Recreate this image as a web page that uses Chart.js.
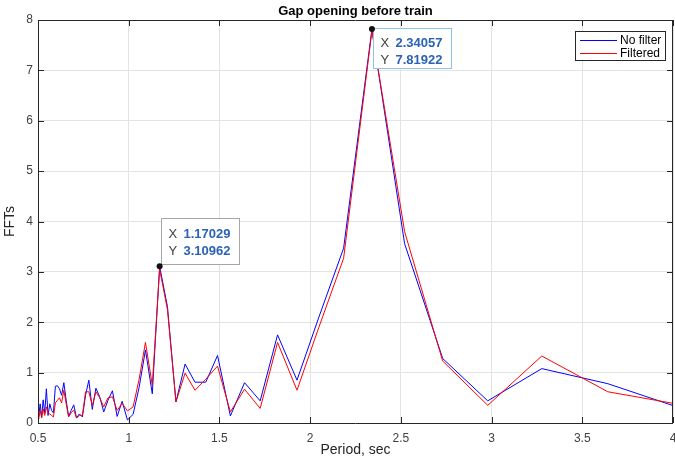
<!DOCTYPE html>
<html>
<head>
<meta charset="utf-8">
<script src="https://cdn.jsdelivr.net/npm/chart.js@4/dist/chart.umd.min.js"></script>
<style>
html, body { margin: 0; padding: 0; background: #fff; }
canvas { display: block; }
</style>
</head>
<body>
<canvas id="fft-chart" width="675" height="459"></canvas>
<script>
// periods (sec), ascending
const periods = [0.4965, 0.5041, 0.5120, 0.5201, 0.5285, 0.5372, 0.5461, 0.5554, 0.5650, 0.5749,
    0.5851, 0.5958, 0.6068, 0.6183, 0.6302, 0.6425, 0.6554, 0.6687, 0.6827, 0.6972,
    0.7123, 0.7282, 0.7447, 0.7621, 0.7802, 0.7992, 0.8192, 0.8402, 0.8623, 0.8856,
    0.9102, 0.9362, 0.9638, 0.9930, 1.0240, 1.0570, 1.0923, 1.1299, 1.17029, 1.2136,
    1.2603, 1.3107, 1.3653, 1.4247, 1.4895, 1.5604, 1.6384, 1.7246, 1.8204, 1.9275,
    2.0480, 2.1845, 2.34057, 2.5206, 2.7307, 2.9789, 3.2768, 3.6409, 4.0960];

const noFilter = [0.30, 0.15, 0.38, 0.12, 0.46, 0.20, 0.68, 0.15, 0.38, 0.25,
    0.20, 0.73, 0.74, 0.68, 0.55, 0.80, 0.45, 0.13, 0.25, 0.36,
    0.10, 0.18, 0.12, 0.55, 0.85, 0.27, 0.69, 0.52, 0.22, 0.45,
    0.64, 0.13, 0.43, 0.06, 0.17, 0.70, 1.45, 0.58, 3.10962, 2.31,
    0.42, 1.17, 0.81, 0.81, 1.34, 0.14, 0.80, 0.44, 1.75, 0.85,
    2.10, 3.47, 7.81922, 3.56, 1.28, 0.44, 1.08, 0.78, 0.23];

const filtered = [0.18, 0.08, 0.25, 0.10, 0.28, 0.15, 0.32, 0.20, 0.18, 0.15,
    0.12, 0.40, 0.45, 0.50, 0.40, 0.65, 0.38, 0.12, 0.20, 0.26,
    0.10, 0.15, 0.15, 0.62, 0.62, 0.35, 0.62, 0.50, 0.32, 0.50,
    0.52, 0.25, 0.39, 0.24, 0.32, 0.86, 1.60, 0.75, 3.05, 2.25,
    0.42, 0.99, 0.65, 0.87, 1.13, 0.22, 0.67, 0.29, 1.60, 0.65,
    1.90, 3.27, 7.78, 3.80, 1.23, 0.35, 1.33, 0.62, 0.33];

const seriesNames = ["No filter", "Filtered"];
const xTicks = [0.5, 1, 1.5, 2, 2.5, 3, 3.5, 4];
const yTicks = [0, 1, 2, 3, 4, 5, 6, 7, 8];
const tipX = [1.17029, 2.34057];
const tipY = [3.10962, 7.81922];

const FONT = "'Liberation Sans', Arial, sans-serif";
const AXIS_COLOR = "#262626";

function toPoints(ys) {
    return periods.map((p, i) => ({ x: p, y: ys[i] }));
}

// box, inward ticks, title, legend and data tips
const matlabLook = {
    id: "matlabLook",
    afterDraw(chart) {
        const c = chart.ctx;
        const a = chart.chartArea;
        const xs = chart.scales.x;
        const ys = chart.scales.y;
        c.save();

        c.strokeStyle = AXIS_COLOR;
        c.lineWidth = 1;
        c.beginPath();
        c.rect(Math.round(a.left) + 0.5, Math.round(a.top) + 0.5,
            Math.round(a.right - a.left) - 1, Math.round(a.bottom - a.top));
        c.stroke();

        c.beginPath();
        xTicks.forEach(v => {
            const px = Math.round(xs.getPixelForValue(v)) + 0.5;
            c.moveTo(px, a.bottom); c.lineTo(px, a.bottom - 6);
            c.moveTo(px, a.top); c.lineTo(px, a.top + 6);
        });
        yTicks.forEach(v => {
            const py = Math.round(ys.getPixelForValue(v)) + 0.5;
            c.moveTo(a.left, py); c.lineTo(a.left + 6, py);
            c.moveTo(a.right, py); c.lineTo(a.right - 6, py);
        });
        c.stroke();

        // title
        c.fillStyle = "#000";
        c.font = "bold 13px " + FONT;
        c.textAlign = "center";
        c.textBaseline = "middle";
        c.fillText("Gap opening before train", (a.left + a.right) / 2, 11);

        // legend
        const lx = 575, ly = 31, lw = 90, lh = 29;
        c.fillStyle = "#fff";
        c.fillRect(lx, ly, lw, lh);
        c.strokeStyle = AXIS_COLOR;
        c.strokeRect(lx + 0.5, ly + 0.5, lw, lh);
        c.font = "12px " + FONT;
        c.textAlign = "left";
        chart.data.datasets.forEach((ds, i) => {
            const yy = ly + 9.5 + i * 13;
            c.strokeStyle = ds.borderColor;
            c.beginPath();
            c.moveTo(lx + 5, yy); c.lineTo(lx + 42, yy);
            c.stroke();
            c.fillStyle = "#000";
            c.fillText(ds.label, lx + 45, yy);
        });

        // data tips
        tipX.forEach((tx, i) => {
            const px = xs.getPixelForValue(tx);
            const py = ys.getPixelForValue(tipY[i]);
            const bw = 78, bh = i === 0 ? 46 : 40;
            const bx = Math.round(px) + 1.5;
            const by = i === 0 ? Math.round(py) - bh - 1.5 : Math.round(py) - 0.5;
            c.fillStyle = "#fff";
            c.fillRect(bx, by, bw, bh);
            c.strokeStyle = i === 0 ? "#a6a6a6" : "#8cc3ea";
            c.strokeRect(bx, by, bw, bh);
            const r1 = by + (i === 0 ? 16 : 15);
            const r2 = r1 + 16.5;
            c.textBaseline = "middle";
            c.font = "13px " + FONT;
            c.fillStyle = "#404040";
            c.fillText("X", bx + 7, r1);
            c.fillText("Y", bx + 7, r2);
            c.font = "bold 13px " + FONT;
            c.fillStyle = "#2a62b5";
            c.fillText(tx.toFixed(5), bx + 22, r1);
            c.fillText(tipY[i].toFixed(5), bx + 22, r2);

            c.fillStyle = "#111";
            c.beginPath();
            c.arc(px, py, 3, 0, Math.PI * 2);
            c.fill();
        });

        c.restore();
    }
};

const ctx = document.getElementById("fft-chart").getContext("2d");

const fftChart = new Chart(ctx, {
    type: "line",
    data: {
        datasets: [{
            label: seriesNames[0],
            data: toPoints(noFilter),
            borderColor: "#0000ff",
            borderWidth: 1,
            pointRadius: 0,
            tension: 0,
            order: 2,
            clip: 0
        }, {
            label: seriesNames[1],
            data: toPoints(filtered),
            borderColor: "#ff0000",
            borderWidth: 1,
            pointRadius: 0,
            tension: 0,
            order: 1,
            clip: 0
        }]
    },
    options: {
        responsive: false,
        animation: false,
        layout: { padding: { top: 20, right: 2, left: 0, bottom: 0 } },
        plugins: {
            legend: { display: false },
            tooltip: { enabled: false },
            title: { display: false }
        },
        scales: {
            x: {
                type: "linear",
                min: 0.5,
                max: 4,
                afterBuildTicks: s => { s.ticks = xTicks.map(v => ({ value: v })); },
                afterFit: s => { s.height = 36; s.paddingLeft = 0; s.paddingRight = 0; },
                border: { display: false },
                grid: { color: "#e3e3e3", drawTicks: false },
                ticks: {
                    color: "#404040",
                    font: { family: FONT, size: 12 },
                    padding: 8,
                    maxRotation: 0,
                    callback: v => String(v)
                },
                title: {
                    display: true,
                    text: "Period, sec",
                    color: "#262626",
                    font: { family: FONT, size: 14 },
                    padding: { top: 0, bottom: 0 }
                }
            },
            y: {
                min: 0,
                max: 8,
                afterBuildTicks: s => { s.ticks = yTicks.map(v => ({ value: v })); },
                afterFit: s => { s.width = 38; s.paddingTop = 0; s.paddingBottom = 0; },
                border: { display: false },
                grid: { color: "#e3e3e3", drawTicks: false },
                ticks: {
                    color: "#404040",
                    font: { family: FONT, size: 12 },
                    padding: 5,
                    callback: v => String(v)
                },
                title: {
                    display: true,
                    text: "FFTs",
                    color: "#262626",
                    font: { family: FONT, size: 14 },
                    padding: { top: 2, bottom: 0 }
                }
            }
        }
    },
    plugins: [matlabLook]
});
</script>
</body>
</html>
